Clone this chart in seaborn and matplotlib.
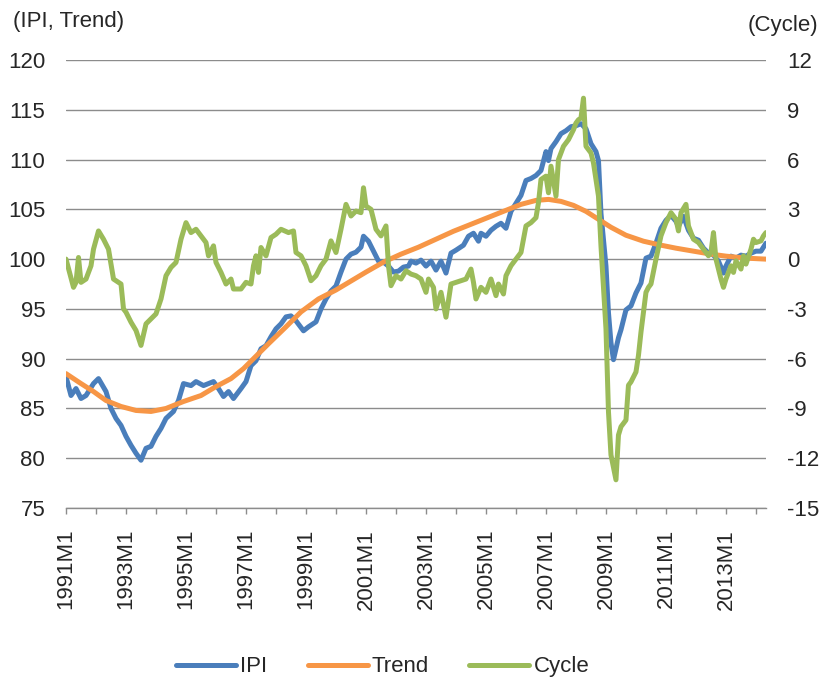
import matplotlib
matplotlib.use("Agg")
import matplotlib.pyplot as plt
import pandas as pd
import seaborn as sns

# Values; x = months since 1991M1
ipi_m = [0, 2, 4, 6, 8, 11, 13, 16, 18, 20, 22, 24, 26, 28, 30, 32, 34, 36, 38, 40,
         43, 45, 47, 50, 52, 55, 57, 59, 61, 63, 65, 67, 70, 72, 74, 76, 78, 80, 82, 84,
         86, 88, 90, 92, 95, 97, 100, 102, 104, 106, 108, 110, 112, 114, 116, 118, 119, 121, 123, 125,
         127, 129, 131, 133, 135, 137, 138, 140, 142, 144, 146, 148, 150, 152, 154, 156, 159, 161, 163, 165,
         166, 168, 170, 172, 174, 176, 178, 180, 182, 184, 186, 188, 190, 192, 193, 194, 196, 198, 200, 202,
         204, 206, 208, 210, 212, 213, 214, 216, 217, 218, 219, 221, 222, 224, 226, 228, 230, 232, 234, 236,
         238, 240, 242, 244, 245, 247, 249, 251, 253, 255, 257, 259, 261, 263, 264, 266, 268, 270, 272, 274,
         276, 278, 280]
ipi_v = [88.2, 86.3, 87.0, 86.0, 86.3, 87.5, 88.0, 86.7, 85.0, 84.0, 83.3, 82.2, 81.3, 80.5, 79.8, 81.0, 81.2, 82.2, 83.0, 84.0,
         84.7, 85.8, 87.5, 87.3, 87.7, 87.3, 87.5, 87.7, 87.0, 86.2, 86.7, 86.0, 87.0, 87.7, 89.3, 89.8, 91.0, 91.3, 92.2, 93.0,
         93.5, 94.2, 94.3, 93.8, 92.8, 93.2, 93.7, 95.0, 96.0, 96.8, 97.3, 98.7, 100.0, 100.5, 100.7, 101.2, 102.3, 101.8, 100.8, 99.8,
         99.7, 99.3, 98.7, 98.8, 99.2, 99.3, 99.8, 99.6, 99.9, 99.3, 99.8, 98.9, 99.8, 98.6, 100.6, 100.9, 101.4, 102.3, 102.6, 101.8,
         102.6, 102.3, 102.9, 103.3, 103.6, 103.1, 104.8, 105.6, 106.4, 107.9, 108.1, 108.4, 108.9, 110.8, 109.9, 111.1, 111.8, 112.6, 112.9, 113.3,
         113.4, 113.6, 113.1, 111.6, 110.8, 109.9, 104.6, 99.3, 94.6, 91.6, 89.9, 92.1, 92.9, 94.9, 95.3, 96.6, 97.6, 100.1, 100.3, 101.6,
         103.1, 103.9, 104.4, 103.8, 103.3, 104.3, 102.9, 102.1, 101.9, 101.1, 100.6, 100.4, 99.8, 98.6, 99.3, 100.3, 100.1, 100.4, 100.3, 100.6,
         100.8, 100.8, 101.6]

trend_m = [0, 6, 11, 16, 22, 28, 34, 40, 47, 54, 60, 66, 71, 75, 81, 88, 94, 101, 108, 114,
           120, 127, 134, 141, 148, 155, 162, 169, 176, 182, 188, 193, 198, 203, 208, 213, 218, 224, 231, 238,
           244, 251, 258, 264, 272, 280]
trend_v = [88.5, 87.5, 86.7, 85.8, 85.2, 84.8, 84.7, 85.0, 85.7, 86.3, 87.2, 88.0, 89.0, 90.0, 91.5, 93.2, 94.7, 96.0, 96.9, 97.8,
           98.7, 99.7, 100.5, 101.2, 102.0, 102.8, 103.5, 104.2, 104.9, 105.5, 105.9, 106.0, 105.8, 105.4, 104.8, 104.0, 103.2, 102.4, 101.8, 101.4,
           101.1, 100.8, 100.5, 100.3, 100.1, 100.0]

cycle_m = [0, 3, 4, 5, 6, 8, 10, 11, 13, 15, 17, 19, 22, 23, 24, 26, 28, 30, 32, 34,
           36, 38, 40, 42, 44, 46, 48, 50, 52, 54, 56, 57, 59, 60, 62, 64, 66, 67, 70, 72,
           74, 75, 76, 77, 78, 80, 82, 84, 86, 89, 91, 92, 94, 96, 98, 100, 102, 104, 106, 108,
           110, 112, 114, 116, 118, 119, 120, 122, 124, 126, 128, 129, 130, 132, 134, 136, 138, 140, 142, 144,
           145, 147, 148, 150, 152, 154, 156, 158, 160, 162, 163, 164, 166, 168, 170, 172, 173, 175, 176, 178,
           180, 182, 184, 186, 188, 189, 190, 192, 193, 194, 196, 197, 199, 201, 203, 204, 205, 206, 207, 208,
           210, 211, 213, 214, 216, 217, 218, 220, 221, 222, 224, 225, 226, 228, 229, 230, 232, 233, 234, 236,
           238, 240, 242, 244, 245, 246, 248, 249, 251, 253, 255, 257, 258, 259, 260, 262, 263, 264, 266, 267,
           268, 270, 271, 272, 274, 275, 276, 278, 279, 280]
cycle_v = [0.0, -1.7, -1.4, 0.1, -1.4, -1.2, -0.4, 0.6, 1.7, 1.2, 0.6, -1.2, -1.5, -3.0, -3.2, -3.8, -4.3, -5.2, -3.9, -3.6,
           -3.3, -2.4, -1.0, -0.5, -0.2, 1.2, 2.2, 1.6, 1.8, 1.4, 1.0, 0.2, 0.8, -0.2, -0.8, -1.5, -1.2, -1.8, -1.8, -1.4,
           -1.5, -0.4, 0.2, -0.8, 0.7, 0.2, 1.3, 1.5, 1.8, 1.6, 1.7, 0.4, 0.2, -0.4, -1.3, -1.0, -0.4, 0.0, 1.1, 0.4,
           1.8, 3.3, 2.6, 2.9, 2.8, 4.3, 3.2, 3.0, 1.8, 1.4, 2.0, -0.4, -1.6, -1.0, -1.2, -0.7, -0.9, -1.0, -1.2, -2.0,
           -1.2, -1.7, -3.0, -2.0, -3.5, -1.5, -1.4, -1.3, -1.2, -0.6, -1.4, -2.4, -1.7, -2.0, -1.2, -2.2, -1.5, -2.1, -1.0, -0.4,
           0.0, 0.4, 2.0, 2.2, 2.5, 3.4, 4.8, 5.0, 4.0, 5.6, 3.8, 6.0, 6.8, 7.2, 7.8, 8.2, 8.4, 8.5, 9.7, 6.8,
           6.4, 5.8, 3.8, 0.8, -4.2, -9.2, -11.8, -13.3, -10.6, -10.1, -9.7, -7.6, -7.4, -6.8, -5.8, -4.4, -2.0, -1.7, -1.5, 0.0,
           1.4, 2.2, 2.8, 2.4, 1.7, 2.8, 3.3, 2.0, 1.2, 1.0, 0.6, 0.2, 0.4, 1.6, 0.0, -1.2, -1.7, -1.2, -0.4, -0.8,
           -0.1, -0.6, 0.2, -0.3, 0.6, 1.2, 1.0, 1.1, 1.4, 1.6]

x_ticks = list(range(0, 277, 12))
x_labels = ['1991M1', '', '1993M1', '', '1995M1', '', '1997M1', '', '1999M1', '', '2001M1', '',
            '2003M1', '', '2005M1', '', '2007M1', '', '2009M1', '', '2011M1', '', '2013M1', '']

sns.set_style("white")
plt.rcParams['font.family'] = ['Liberation Sans', 'DejaVu Sans']
plt.rcParams['font.size'] = 16
plt.rcParams['axes.unicode_minus'] = False

grid_col = '#8c8c8c'
text_col = '#262626'

df_ipi = pd.DataFrame({'month': ipi_m, 'value': ipi_v})
df_trend = pd.DataFrame({'month': trend_m, 'value': trend_v})
df_cycle = pd.DataFrame({'month': cycle_m, 'value': cycle_v})

fig = plt.figure(figsize=(8.23, 6.82), dpi=100)
ax = fig.add_axes([0.0802, 0.2551, 0.8505, 0.6569])
ax2 = ax.twinx()

sns.lineplot(data=df_ipi, x='month', y='value', ax=ax, color='#4A7EBB', linewidth=3.6, label='IPI', legend=False)
sns.lineplot(data=df_trend, x='month', y='value', ax=ax, color='#F79646', linewidth=3.6, label='Trend', legend=False)
sns.lineplot(data=df_cycle, x='month', y='value', ax=ax2, color='#9BBB59', linewidth=3.6, label='Cycle', legend=False)

ax.set_xlim(0, 280)
ax.set_ylim(75, 120)
ax2.set_ylim(-15, 12)
ax.set_yticks(range(75, 121, 5))
ax2.set_yticks(range(-15, 13, 3))
ax.set_xticks(x_ticks)
ax.set_xticklabels(x_labels, rotation=90)

ax.grid(axis='y', color=grid_col, linewidth=1.0)
ax.grid(axis='x', visible=False)
ax2.grid(False)
ax.set_axisbelow(True)

for a in (ax, ax2):
    for s in ('top', 'left', 'right'):
        a.spines[s].set_visible(False)
    a.set_xlabel('')
    a.set_ylabel('')
ax2.spines['bottom'].set_visible(False)
ax.spines['bottom'].set_color(grid_col)
ax.spines['bottom'].set_linewidth(1.0)

ax.tick_params(axis='x', direction='out', length=4, width=1.0, color=grid_col, pad=11,
               labelsize=16, labelcolor=text_col, bottom=True)
ax.tick_params(axis='y', length=0, pad=15, labelsize=16, labelcolor=text_col)
ax2.tick_params(axis='y', length=0, pad=15, labelsize=16, labelcolor=text_col)

fig.text(0.016, 0.968, '(IPI, Trend)', fontsize=16, color=text_col, ha='left', va='center')
fig.text(0.994, 0.963, '(Cycle)', fontsize=16, color=text_col, ha='right', va='center')

handles = ax.get_lines()[:2] + ax2.get_lines()[:1]
fig.legend(handles, ['IPI', 'Trend', 'Cycle'], loc='center', bbox_to_anchor=(0.465, 0.022),
           ncol=3, frameon=False, fontsize=16, handlelength=2.7, handletextpad=0.2,
           columnspacing=1.8, labelcolor=text_col)

fig.savefig('out.png', dpi=100)
